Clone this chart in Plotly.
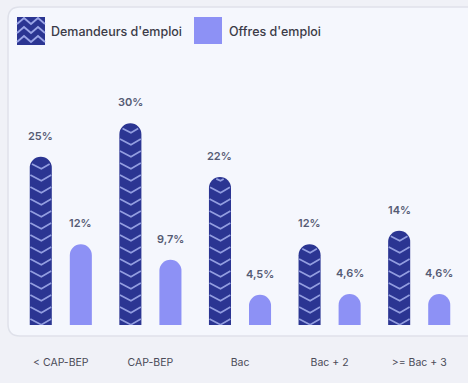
import numpy as np
import plotly.graph_objects as go

# Data
categories = ["< CAP-BEP", "CAP-BEP", "Bac", "Bac + 2", ">= Bac + 3"]
demandeurs = [25, 30, 22, 12, 14]
offres = [12, 9.7, 4.5, 4.6, 4.6]
series_names = ["Demandeurs d'emploi", "Offres d'emploi"]

# Styling
DARK = "#2b3592"
LIGHT = "#8d91f5"
ZIG = "#939ee0"
FONT = "Inter"
W, H = 468, 383
M_L, M_R, M_T, M_B = 16, 4, 103, 58
Y_MAX = 33
PLOT_W = W - M_L - M_R
PLOT_H = H - M_T - M_B
PX_X = PLOT_W / len(categories)   # px per x unit
PX_Y = PLOT_H / Y_MAX             # px per y unit
OFF = 0.2235                      # bar centre offset from category centre
BW = 0.246                        # bar width in x units

def fmt(v):
    return f"{v:g}".replace(".", ",") + "%"

x_idx = np.arange(len(categories))

fig = go.Figure()
fig.add_bar(x=x_idx - OFF, y=demandeurs, width=BW, name=series_names[0],
            marker=dict(color=DARK, cornerradius="50%", line=dict(width=0)),
            showlegend=False, hoverinfo="skip")
fig.add_bar(x=x_idx + OFF, y=offres, width=BW, name=series_names[1],
            marker=dict(color=LIGHT, cornerradius="50%", line=dict(width=0)),
            showlegend=False, hoverinfo="skip")

# Chevron pattern inside the dark bars, clipped to the rounded bar outline
half_px = BW * PX_X / 2 - 0.6
period_px = 12.0
depth_px = 6.0
for cx, v in zip(x_idx - OFF, demandeurs):
    top_px = v * PX_Y
    r = BW * PX_X / 2
    xs, ys = [], []

    def inside(dx, y):
        if y < 0 or y > top_px:
            return False
        if y <= top_px - r:
            return abs(dx) <= half_px
        return dx * dx + (y - (top_px - r)) ** 2 <= (r - 0.8) ** 2

    k = 0
    while True:
        ye = depth_px + k * period_px
        if ye - depth_px > top_px:
            break
        t = np.linspace(-1, 1, 41)
        dxs = t * half_px
        yvals = ye - depth_px * (1 - np.abs(t))
        for dx, y in zip(dxs, yvals):
            if inside(dx, y):
                xs.append(cx + dx / PX_X)
                ys.append(y / PX_Y)
            else:
                xs.append(None)
                ys.append(None)
        xs.append(None)
        ys.append(None)
        k += 1
    fig.add_scatter(x=xs, y=ys, mode="lines", line=dict(color=ZIG, width=1.7),
                    showlegend=False, hoverinfo="skip", connectgaps=False)

# Value labels
label_font = dict(family=FONT, size=11, color="#555b74", weight=600)
for cx, v in zip(x_idx - OFF, demandeurs):
    fig.add_annotation(x=cx, y=v, text=fmt(v), showarrow=False, yanchor="bottom",
                       yshift=12, font=label_font)
for cx, v in zip(x_idx + OFF, offres):
    fig.add_annotation(x=cx, y=v, text=fmt(v), showarrow=False, yanchor="bottom",
                       yshift=12, font=label_font)

# Pixel -> paper helpers for panel and legend
def px(x):
    return (x - M_L) / PLOT_W

def py(y):
    return (H - M_B - y) / PLOT_H

def rounded_rect(x0, y0, x1, y1, rad):
    a, b, c, d = px(x0), py(y0), px(x1), py(y1)
    rx = rad / PLOT_W
    ry = rad / PLOT_H
    return (f"M{a + rx},{b} L{c - rx},{b} Q{c},{b} {c},{b - ry} "
            f"L{c},{d + ry} Q{c},{d} {c - rx},{d} L{a + rx},{d} "
            f"Q{a},{d} {a},{d + ry} L{a},{b - ry} Q{a},{b} {a + rx},{b} Z")

shapes = [
    dict(type="path", xref="paper", yref="paper", layer="below",
         path=rounded_rect(8, 7, 540, 336, 12),
         fillcolor="#f5f7fd", line=dict(color="#dfe1ea", width=1.5)),
    # legend swatches
    dict(type="rect", xref="paper", yref="paper", x0=px(17), x1=px(45), y0=py(45), y1=py(17),
         fillcolor=DARK, line=dict(width=0)),
    dict(type="rect", xref="paper", yref="paper", x0=px(194), x1=px(222), y0=py(44), y1=py(17),
         fillcolor=LIGHT, line=dict(width=0)),
]
# zigzag rows in the dark legend swatch
for row_y in (24, 33, 42):
    pts = [(17, row_y), (24, row_y - 6), (31, row_y), (38, row_y - 6), (45, row_y)]
    path = "M" + " L".join(f"{px(a)},{py(b)}" for a, b in pts)
    shapes.append(dict(type="path", xref="paper", yref="paper", path=path,
                       line=dict(color="#9aa4e6", width=1.8)))

legend_font = dict(family=FONT, size=12.5, color="#3b3b47", weight=500)
fig.add_annotation(xref="paper", yref="paper", x=px(49), y=py(31), text=series_names[0],
                   showarrow=False, xanchor="left", yanchor="middle", font=legend_font)
fig.add_annotation(xref="paper", yref="paper", x=px(227), y=py(31), text=series_names[1],
                   showarrow=False, xanchor="left", yanchor="middle", font=legend_font)

fig.update_layout(
    width=W, height=H,
    margin=dict(l=M_L, r=M_R, t=M_T, b=M_B),
    paper_bgcolor="#f0f1f7", plot_bgcolor="rgba(0,0,0,0)",
    barmode="overlay", shapes=shapes, showlegend=False,
    xaxis=dict(range=[-0.5, len(categories) - 0.5], tickvals=list(x_idx), ticktext=categories,
               showgrid=False, zeroline=False, showline=False, ticks="",
               ticklabelstandoff=29,
               tickfont=dict(family=FONT, size=10.5, color="#4b4b58")),
    yaxis=dict(range=[0, Y_MAX], visible=False, showgrid=False, zeroline=False),
)

fig.write_html("out.html")
